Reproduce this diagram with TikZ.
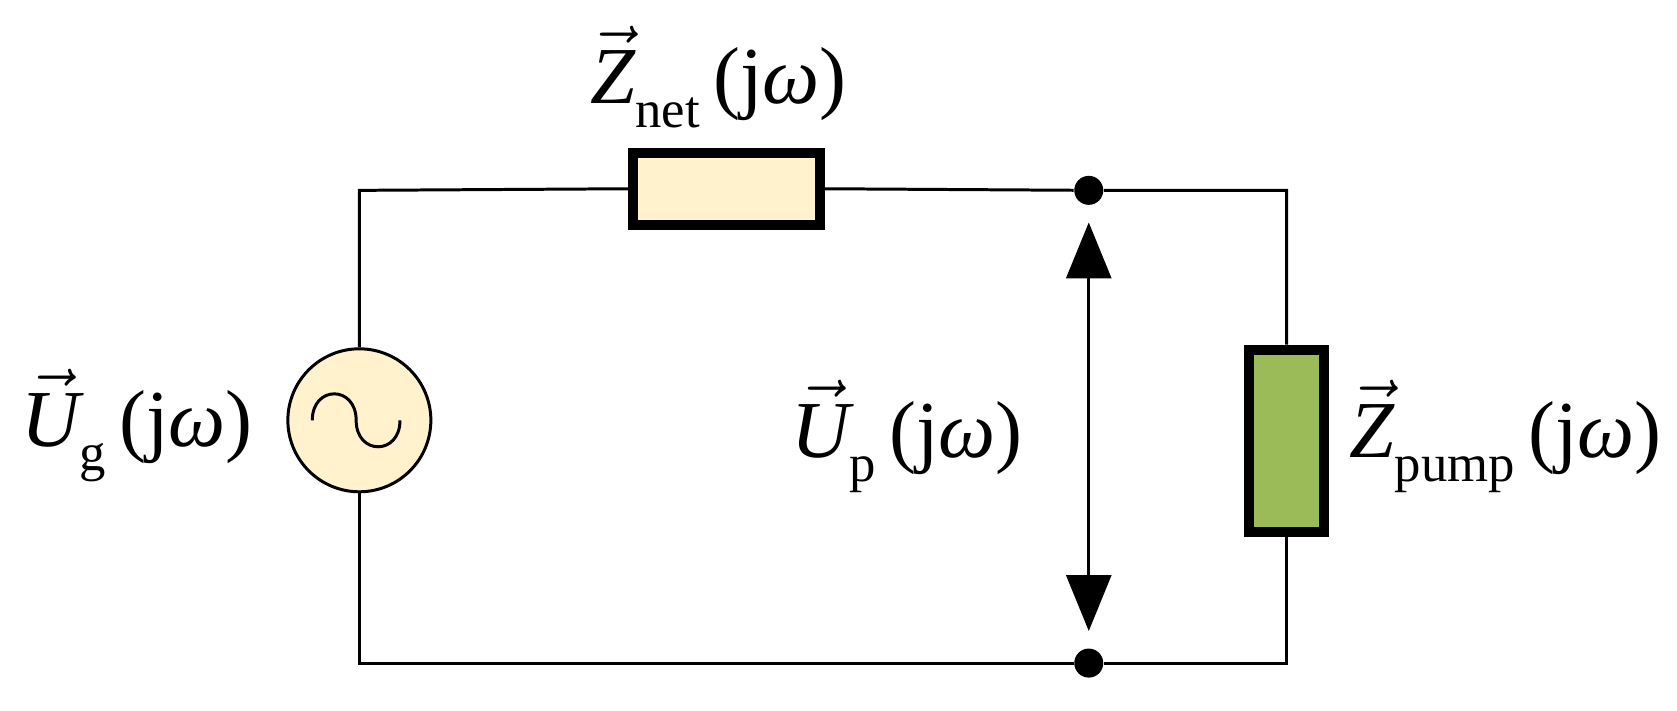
\documentclass[tikz,border=0pt]{standalone}
\usepackage{fontspec}
\setmainfont{Liberation Serif}
\usetikzlibrary{arrows.meta}
\definecolor{lightcream}{HTML}{FFF2CC}
\definecolor{pumpgreen}{HTML}{9BBB59}
\newcommand\myvec[1]{$\vec{\mbox{\itshape #1}}$}
\newcommand\jw{\,(j{\itshape ω})}
\newcommand\sbs[1]{\raisebox{-0.3em}{\fontsize{15}{17}\selectfont #1}}
\tikzset{
  wire/.style={line width=0.85pt},
  box/.style={draw, line width=2.8pt},
  lbl/.style={font=\fontsize{23}{26}\selectfont, inner sep=0pt},
  dot/.style={circle, fill=black, minimum size=0.29cm, inner sep=0pt}
}
\begin{document}
\begin{tikzpicture}[x=0.010695cm,y=-0.010695cm]
\node[draw, wire, fill=lightcream, circle, minimum size=1.43cm, inner sep=0pt] (src) at (336,393) {};
\draw[wire] (292,393) .. controls (292,360) and (333,360) .. (333,393) .. controls (333,426) and (374,426) .. (374,393);
\node[box, fill=lightcream, minimum width=1.87cm, minimum height=0.72cm] (zn) at (679.5,176.5) {};
\node[box, fill=pumpgreen, minimum width=0.75cm, minimum height=1.82cm] (zp) at (1203,412) {};
\node[dot] (d1) at (1018,178) {};
\node[dot] (d2) at (1018,620) {};
\coordinate (tl) at (336,178);
\coordinate (bl) at (336,620);
\coordinate (tr) at (1203,178);
\coordinate (br) at (1203,620);
\draw[wire] (src.north) -- (tl) -- (zn.west);
\draw[wire] (zn.east) -- (d1) -- (tr) -- (zp.north);
\draw[wire] (src.south) -- (bl) -- (d2) -- (br) -- (zp.south);
\draw[wire, {Triangle[width=0.45cm,length=0.56cm]}-{Triangle[width=0.45cm,length=0.56cm]}] (1018,208) -- (1018,590);
\node[lbl] (lzn) at (672,72) {\myvec{Z}\sbs{net}\jw};
\node[lbl] (lug) at (128,398) {\myvec{U}\sbs{g}\jw};
\node[lbl] (lup) at (848,408) {\myvec{U}\sbs{p}\jw};
\node[lbl] (lzp) at (1408,408) {\myvec{Z}\sbs{pump}\jw};
\pgfresetboundingbox
\useasboundingbox (0,0) rectangle (1568,664);
\end{tikzpicture}
\end{document}
